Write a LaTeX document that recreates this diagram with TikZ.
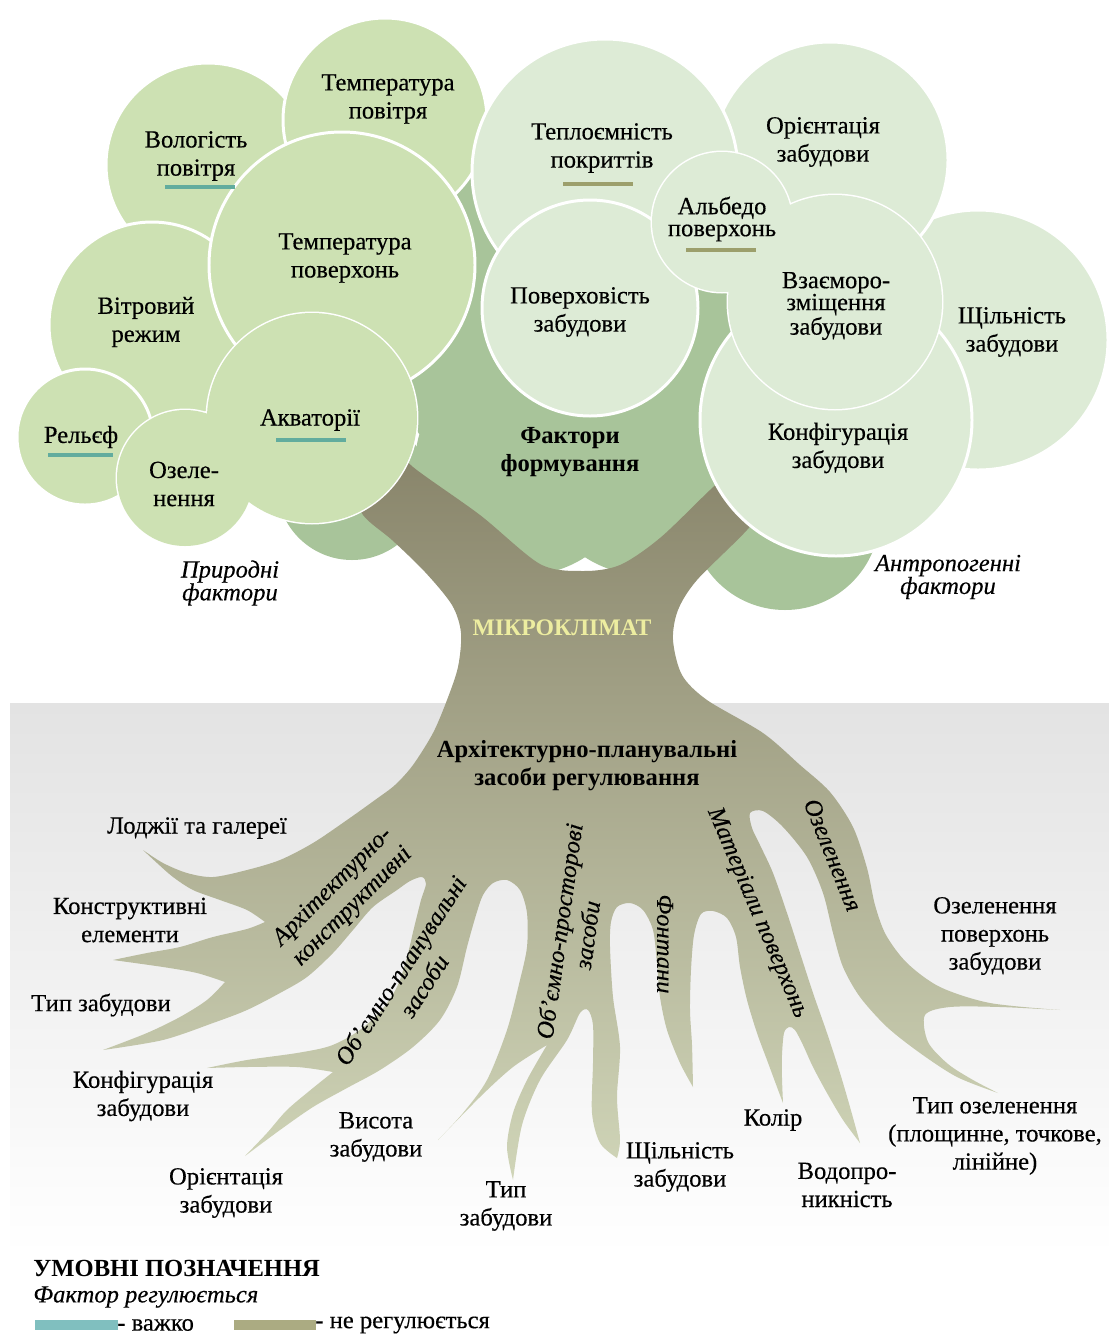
\documentclass[tikz,border=0pt]{standalone}
\usepackage{fontspec}
\setmainfont{Liberation Serif}[UprightFeatures={FakeBold=0.4},ItalicFeatures={FakeBold=0.3}]
\usepackage{tikz}
\definecolor{natfill}{HTML}{CDE1B3}
\definecolor{antfill}{HTML}{DDEBD6}
\definecolor{crown}{HTML}{A8C49A}
\definecolor{barktop}{HTML}{88846A}
\definecolor{barkbot}{HTML}{D0D5B8}
\definecolor{hardcol}{HTML}{62AC9E}
\definecolor{fixcol}{HTML}{9C9F6C}
\definecolor{hardbar}{HTML}{80BFBF}
\definecolor{fixbar}{HTML}{ABAB82}
\definecolor{climate}{HTML}{EDEDA0}

\begin{document}
\begin{tikzpicture}[x=0.02cm,y=-0.02cm,
	  lbl/.style={align=center,inner sep=0pt,font=\fontsize{14}{16}\selectfont},
	  tight/.style={align=center,inner sep=0pt,font=\fontsize{14}{12.5}\selectfont},
	  bold/.style={align=center,inner sep=0pt,font=\fontsize{14}{16}\selectfont\bfseries},
	  ital/.style={align=center,inner sep=0pt,font=\fontsize{14}{13}\selectfont\itshape},
	  rootlbl/.style={align=center,inner sep=0pt,font=\fontsize{14}{16}\selectfont\itshape},
	  nat/.style={fill=natfill,draw=white,line width=1.7pt},
	  ant/.style={fill=antfill,draw=white,line width=1.7pt}]
	  \useasboundingbox (0,0) rectangle (1109,1336);
	  \shade[top color=black!11,bottom color=white] (10,703) rectangle (1109,1255);
	  \fill[crown] (590,330) circle (200) (525,465) circle (110) (645,465) circle (110)
	    (352,485) circle (75) (785,515) circle (95);
	  \shade[top color=barktop,bottom color=barkbot] (350,482)
	    -- plot[smooth] coordinates {(395,445) (413,467) (480,515) (540,564) (583,571) (620,565) (660,538) (710,490) (745,458)}
	    -- plot[smooth] coordinates {(780,488) (747,530) (697,580) (678,610) (673,640) (682,675) (707,700) (763,733) (800,765) (830,792) (853,827) (867,868) (875,905) (886,935) (907,963) (940,987) (990,1003) (1060,1010)}
	    -- plot[smooth] coordinates {(1060,1010) (1000,1007) (950,1007) (925,1015) (928,1042) (948,1064) (973,1080) (998,1093)}
	    -- plot[smooth] coordinates {(998,1093) (957,1077) (920,1053) (887,1027) (860,997) (843,967) (833,933) (823,893) (807,857) (783,827) (763,811) (750,813) (752,828) (760,845) (773,873) (787,913) (800,953) (813,993) (827,1033) (840,1073) (850,1107) (860,1143)}
	    -- plot[smooth] coordinates {(860,1143) (843,1120) (827,1093) (813,1067) (803,1045) (795,1030) (789,1027) (784,1033) (782,1055) (782,1078) (783,1103)}
	    -- plot[smooth] coordinates {(783,1103) (777,1087) (767,1060) (757,1033) (747,1000) (740,967) (736,937) (727,918) (713,911) (701,914) (694,935) (691,970) (690,1010) (692,1045) (693,1087)}
	    -- plot[smooth] coordinates {(693,1087) (680,1063) (667,1030) (660,997) (657,963) (653,930) (643,910) (630,903) (617,907) (611,922) (610,947) (613,997) (620,1047) (617,1097) (620,1140) (617,1158)}
	    -- plot[smooth] coordinates {(617,1158) (600,1143) (592,1113) (593,1063) (593,1025) (588,1010) (580,1013) (567,1040) (540,1080) (522,1125) (513,1180)}
	    -- plot[smooth] coordinates {(513,1180) (507,1147) (513,1113) (527,1080) (547,1045)}
	    -- plot[smooth] coordinates {(547,1045) (513,1067) (480,1097) (438,1140)}
	    -- plot[smooth] coordinates {(438,1140) (463,1113) (487,1080) (507,1030) (520,980) (527,947) (527,913) (520,890) (507,880) (493,883) (483,895) (476,915) (467,947) (457,987) (440,1020) (413,1047) (380,1070) (347,1088) (313,1107) (280,1130) (245,1156)}
	    -- plot[smooth] coordinates {(245,1156) (267,1133) (287,1110) (313,1088) (333,1072)}
	    -- plot[smooth] coordinates {(333,1072) (297,1067) (247,1067) (207,1068)}
	    -- plot[smooth] coordinates {(207,1068) (247,1060) (297,1053) (330,1046) (357,1032) (380,1012) (397,987) (407,957) (414,928) (421,900) (426,884) (422,877) (410,881) (397,890) (373,907) (353,930) (333,953) (307,977) (280,993) (247,1010) (213,1023) (163,1040) (103,1050)}
	    -- plot[smooth] coordinates {(103,1050) (147,1033) (180,1017) (207,1000) (225,982)}
	    -- plot[smooth] coordinates {(225,982) (197,973) (163,967) (113,960)}
	    -- plot[smooth] coordinates {(113,960) (147,953) (180,947) (213,937) (247,929) (265,922)}
	    -- plot[smooth] coordinates {(265,922) (247,910) (220,900) (193,890) (173,877) (157,863) (143,850)}
	    -- plot[smooth] coordinates {(143,850) (163,863) (187,873) (213,877) (247,870) (280,860) (313,843) (347,820) (375,800) (395,785) (413,765) (433,733) (447,700) (458,667) (461,633) (452,605) (425,572) (392,540) (363,515) (350,482)}
	    -- cycle;
	  \filldraw[nat] (208,165) circle (102);
	  \filldraw[nat] (385,120) circle (102);
	  \filldraw[nat] (152,325) circle (103);
	  \filldraw[nat] (342,265) circle (133);
	  \filldraw[nat] (85,437) circle (68);
	  \draw[white,line width=1.7pt] (185,478) circle (68) (312,418) circle (105);
	  \fill[natfill] (185,478) circle (68) (312,418) circle (105);
	  \filldraw[ant] (978,340) circle (130);
	  \filldraw[ant] (830,160) circle (118);
	  \filldraw[ant] (605,172) circle (133);
	  \filldraw[ant] (590,308) circle (108);
	  \filldraw[ant] (836,420) circle (136);
	  \draw[white,line width=1.7pt] (722,222) circle (70) (835,302) circle (107);
	  \fill[antfill] (722,222) circle (70) (835,302) circle (107);
	  \draw[hardcol,line width=2.3pt] (165,187) -- (235,187);
	  \draw[hardcol,line width=2.3pt] (48,455) -- (113,455);
	  \draw[hardcol,line width=2.3pt] (276,440) -- (346,440);
	  \draw[fixcol,line width=2.3pt] (563,184) -- (633,184);
	  \draw[fixcol,line width=2.3pt] (686,250) -- (756,250);
	  \node[lbl] (tair) at (388,99) {Температура\\повітря};
	  \node[lbl] (hum) at (196,156) {Вологість\\повітря};
	  \node[lbl] (tsurf) at (345,258) {Температура\\поверхонь};
	  \node[lbl] (wind) at (146,322) {Вітровий\\режим};
	  \node[lbl] (relief) at (81,437) {Рельєф};
	  \node[lbl] (green) at (184,484) {Озеле-\\нення};
	  \node[lbl] (aqua) at (310,420) {Акваторії};
	  \node[lbl] (heat) at (602,148) {Теплоємність\\покриттів};
	  \node[lbl] (orient) at (823,142) {Орієнтація\\забудови};
	  \node[tight] (albedo) at (722,219) {Альбедо\\поверхонь};
	  \node[lbl] (floors) at (580,312) {Поверховість\\забудови};
	  \node[tight] (mutual) at (836,306) {Взаєморо-\\зміщення\\забудови};
	  \node[lbl] (dens) at (1012,332) {Щільність\\забудови};
	  \node[lbl] (config) at (838,448) {Конфігурація\\забудови};
	  \node[bold] (factors) at (570,452) {Фактори\\формування};
	  \node[ital] (natural) at (230,583) {Природні\\фактори};
	  \node[ital] (anthro) at (948,577) {Антропогенні\\фактори};
	  \node[bold,text=climate,font=\fontsize{13.5}{16}\selectfont\bfseries] (micro) at (562,628) {МІКРОКЛІМАТ};
	  \node[bold] (means) at (587,766) {Архітектурно-планувальні\\засоби регулювання};
	  \node[rootlbl,rotate=45] (archc) at (343,897) {Архітектурно-\\конструктивні};
	  \node[rootlbl,rotate=57] (volplan) at (412,978) {Об’ємно-планувальні\\засоби};
	  \node[rootlbl,rotate=82] (volspace) at (573,933) {Об’ємно-просторові\\засоби};
	  \node[rootlbl,rotate=-90] (fount) at (665,944) {Фонтани};
	  \node[rootlbl,rotate=-67] (mater) at (757,913) {Матеріали поверхонь};
	  \node[rootlbl,rotate=-68] (greening) at (833,855) {Озеленення};
	  \node[lbl] (loggia) at (197,828) {Лоджії та галереї};
	  \node[lbl] (constr) at (130,920) {Конструктивні\\елементи};
	  \node[lbl] (typea) at (101,1005) {Тип забудови};
	  \node[lbl] (configb) at (143,1096) {Конфігурація\\забудови};
	  \node[lbl] (orientb) at (226,1193) {Орієнтація\\забудови};
	  \node[lbl] (height) at (376,1137) {Висота\\забудови};
	  \node[lbl] (typeb) at (506,1206) {Тип\\забудови};
	  \node[lbl] (densb) at (680,1167) {Щільність\\забудови};
	  \node[lbl] (colour) at (773,1120) {Колір};
	  \node[lbl] (perm) at (847,1185) {Водопро-\\никність};
	  \node[lbl] (gtype) at (995,1136) {Тип озеленення\\(площинне, точкове,\\лінійне)};
	  \node[lbl] (groof) at (995,936) {Озеленення\\поверхонь\\забудови};
	  \node[bold,anchor=west] (legend) at (33,1268) {УМОВНІ ПОЗНАЧЕННЯ};
	  \node[ital,anchor=west] (reg) at (33,1297) {Фактор регулюється};
	  \fill[hardbar] (35,1320) rectangle (118,1330);
	  \fill[fixbar] (234,1320) rectangle (316,1330);
	  \node[lbl,anchor=west] (hard) at (117,1325) {- важко};
	  \node[lbl,anchor=west] (fixed) at (315,1325) {- не регулюється};
	\end{tikzpicture}
\end{document}
